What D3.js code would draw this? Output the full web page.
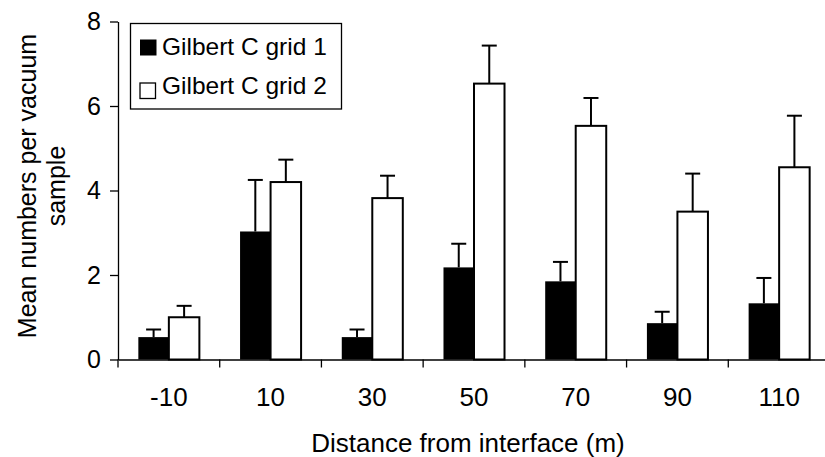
<!DOCTYPE html>
<html>
<head>
<meta charset="utf-8">
<script src="https://cdn.jsdelivr.net/npm/d3@7"></script>
<style>
  body { margin: 0; background: #fff; }
  svg text { font-family: "Liberation Sans", Arial, sans-serif; fill: #000; }
</style>
</head>
<body>
<svg id="drawing_region"></svg>
<script>
const categories = ['-10', '10', '30', '50', '70', '90', '110'];
const series_names = ['Gilbert C grid 1', 'Gilbert C grid 2'];
const grid1_mean = [0.53, 3.03, 0.53, 2.18, 1.85, 0.86, 1.33];
const grid1_err  = [0.18, 1.22, 0.18, 0.56, 0.46, 0.27, 0.60];
const grid2_mean = [1.00, 4.20, 3.82, 6.53, 5.53, 3.50, 4.55];
const grid2_err  = [0.27, 0.53, 0.53, 0.90, 0.66, 0.90, 1.22];
const y_ticks = [0, 2, 4, 6, 8];

const config = {
  width: 825,
  height: 457,
  left: 118,
  right: 830,
  top: 21.5,
  bottom: 359.5,
  font: 25
};

const svg = d3.select('#drawing_region')
  .attr('width', config.width)
  .attr('height', config.height);

// scales
const x_outer = d3.scaleBand()
  .domain(categories)
  .range([config.left, config.right])
  .padding(0);

const x_scale = d3.scaleBand()
  .domain(categories)
  .range([config.left, config.right])
  .paddingInner(0.4)
  .paddingOuter(0.2);

const x_sub = d3.scaleBand()
  .domain([0, 1])
  .range([0, x_scale.bandwidth()]);

const y_scale = d3.scaleLinear()
  .domain([0, 8])
  .range([config.bottom, config.top]);

const rows = categories.map((c, i) => ({
  cat: c,
  vals: [
    { s: 0, mean: grid1_mean[i], err: grid1_err[i] },
    { s: 1, mean: grid2_mean[i], err: grid2_err[i] }
  ]
}));

const groups = svg.selectAll('g.group')
  .data(rows)
  .join('g')
  .attr('class', 'group')
  .attr('transform', d => `translate(${x_scale(d.cat)},0)`);

// error bars (upper half only)
groups.selectAll('g.err')
  .data(d => d.vals)
  .join('g')
  .attr('class', 'err')
  .each(function(d) {
    const g = d3.select(this);
    const cx = x_sub(d.s) + x_sub.bandwidth() / 2;
    g.append('line')
      .attr('x1', cx).attr('x2', cx)
      .attr('y1', y_scale(d.mean)).attr('y2', y_scale(d.mean + d.err))
      .attr('stroke', '#000').attr('stroke-width', 2);
    g.append('line')
      .attr('x1', cx - 7.5).attr('x2', cx + 7.5)
      .attr('y1', y_scale(d.mean + d.err)).attr('y2', y_scale(d.mean + d.err))
      .attr('stroke', '#000').attr('stroke-width', 2);
  });

groups.selectAll('rect')
  .data(d => d.vals)
  .join('rect')
  .attr('x', d => x_sub(d.s))
  .attr('y', d => y_scale(d.mean))
  .attr('width', x_sub.bandwidth())
  .attr('height', d => config.bottom - y_scale(d.mean))
  .attr('fill', d => d.s === 0 ? '#000' : '#fff')
  .attr('stroke', '#000')
  .attr('stroke-width', d => d.s === 0 ? 0 : 2);

// y axis
const yaxis = d3.axisLeft(y_scale)
  .tickValues(y_ticks)
  .tickFormat(d3.format('d'))
  .tickSize(8)
  .tickPadding(9)
  .tickSizeOuter(0);

const yaxis_group = svg.append('g')
  .attr('transform', `translate(${config.left},0)`)
  .call(yaxis);
yaxis_group.selectAll('text').attr('font-size', config.font).style('font-family', '"Liberation Sans", Arial, sans-serif');
yaxis_group.selectAll('line, path').attr('stroke', '#000').attr('stroke-width', 1.3);

// x axis: labels centered, ticks between categories
const xaxis = d3.axisBottom(x_outer)
  .tickSize(0)
  .tickPadding(28)
  .tickSizeOuter(0);

const xaxis_group = svg.append('g')
  .attr('transform', `translate(0,${config.bottom})`)
  .call(xaxis);
xaxis_group.select('.domain').attr('stroke', '#000').attr('stroke-width', 1.3);
xaxis_group.selectAll('text').attr('font-size', 26).style('font-family', '"Liberation Sans", Arial, sans-serif');

xaxis_group.selectAll('line.sep')
  .data(categories.concat(['end']))
  .join('line')
  .attr('class', 'sep')
  .attr('x1', (d, i) => config.left + i * x_outer.step())
  .attr('x2', (d, i) => config.left + i * x_outer.step())
  .attr('y1', 0).attr('y2', 8)
  .attr('stroke', '#000').attr('stroke-width', 1.3);

// axis titles
svg.append('text')
  .attr('x', 468)
  .attr('y', 452)
  .attr('text-anchor', 'middle')
  .attr('font-size', 26)
  .text('Distance from interface (m)');

const ytitle = svg.append('text')
  .attr('transform', 'translate(36,186) rotate(-90)')
  .attr('text-anchor', 'middle')
  .attr('font-size', config.font);
ytitle.append('tspan').attr('x', 0).attr('y', 0).text('Mean numbers per vacuum');
ytitle.append('tspan').attr('x', 0).attr('y', 29).text('sample');

// legend
const legend = svg.append('g');
legend.append('rect')
  .attr('x', 130.5).attr('y', 23.5)
  .attr('width', 211).attr('height', 85.5)
  .attr('fill', '#fff').attr('stroke', '#000').attr('stroke-width', 1.3);

const legend_items = legend.selectAll('g.item')
  .data(series_names)
  .join('g')
  .attr('class', 'item')
  .attr('transform', (d, i) => `translate(0,${i * 39})`);

legend_items.append('rect')
  .attr('x', 140)
  .attr('y', (d, i) => i === 0 ? 39.5 : 44)
  .attr('width', (d, i) => i === 0 ? 16.5 : 15.5)
  .attr('height', (d, i) => i === 0 ? 16 : 15.5)
  .attr('fill', (d, i) => i === 0 ? '#000' : '#fff')
  .attr('stroke', '#000')
  .attr('stroke-width', (d, i) => i === 0 ? 0 : 1.3);

legend_items.append('text')
  .attr('x', 162)
  .attr('y', 54.5)
  .attr('font-size', 24.5)
  .text(d => d);
</script>
</body>
</html>
